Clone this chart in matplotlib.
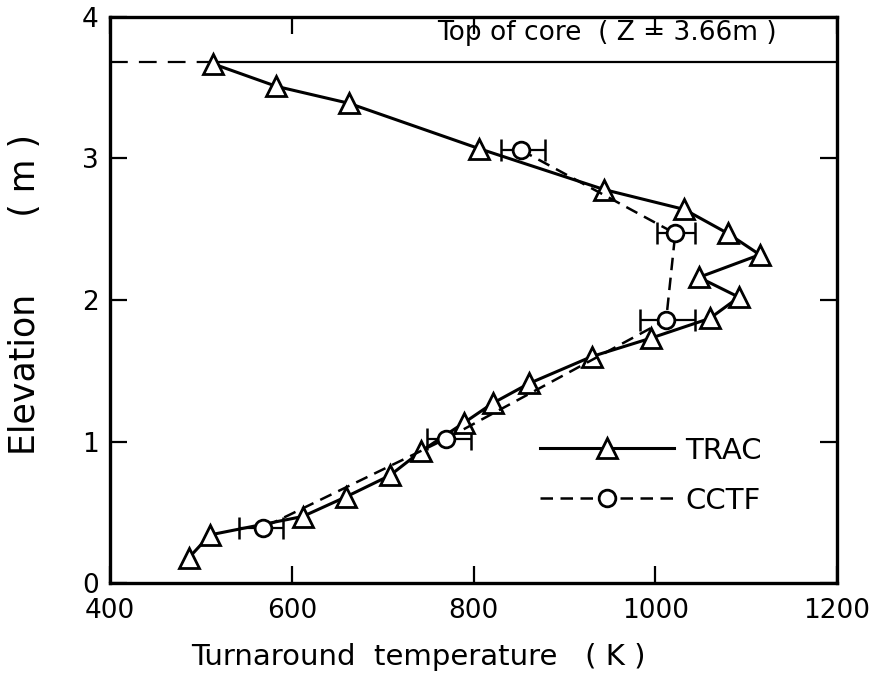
import matplotlib
matplotlib.use("Agg")
import matplotlib.pyplot as plt

# TRAC calculation, turnaround temperature (K) against elevation (m)
trac_temp = [513, 583, 663, 806, 944, 1032, 1080, 1115, 1048, 1092, 1060,
             995, 930, 861, 821, 789, 742, 708, 660, 612, 510, 487]
trac_elev = [3.67, 3.51, 3.39, 3.07, 2.78, 2.64, 2.47, 2.32, 2.16, 2.02, 1.87,
             1.73, 1.60, 1.41, 1.27, 1.13, 0.93, 0.76, 0.61, 0.47, 0.34, 0.18]

# CCTF measurement with its spread
cctf_temp = [852, 1022, 1012, 770, 568]
cctf_elev = [3.06, 2.47, 1.86, 1.02, 0.39]
cctf_err_lo = [22, 20, 29, 21, 26]
cctf_err_hi = [27, 22, 32, 27, 22]

core_top = 3.68
x_ticks = [400, 600, 800, 1000, 1200]
y_ticks = [0, 1, 2, 3, 4]

fig = plt.figure(figsize=(8.69, 6.88), dpi=100)
ax = fig.add_axes([0.1266, 0.1526, 0.8366, 0.8227])

# top of core line: dashed up to the first TRAC point, solid beyond
ax.plot([400, trac_temp[0]], [core_top, core_top], color='black', lw=1.6,
        ls=(0, (8, 5)))
ax.plot([trac_temp[0], 1200], [core_top, core_top], color='black', lw=1.6)
ax.text(0.45, 0.972, "Top of core  ( Z = 3.66m )", transform=ax.transAxes,
        fontsize=19, va='center', ha='left')

trac, = ax.plot(trac_temp, trac_elev, color='black', lw=2.2, marker='^',
                ms=14, mfc='white', mec='black', mew=2, label='TRAC',
                zorder=3)
cctf, = ax.plot(cctf_temp, cctf_elev, color='black', lw=1.8,
                ls=(0, (5, 3)), marker='o', ms=12, mfc='white', mec='black',
                mew=2, label='CCTF', zorder=4)
ax.errorbar(cctf_temp, cctf_elev, xerr=[cctf_err_lo, cctf_err_hi], fmt='none',
            ecolor='black', elinewidth=1.6, capsize=8, capthick=1.8, zorder=2)

ax.set_xlim(400, 1200)
ax.set_ylim(0, 4)
ax.set_xticks(x_ticks)
ax.set_yticks(y_ticks)
ax.tick_params(direction='in', length=12, width=1.6, labelsize=19,
               top=True, right=True)
ax.tick_params(axis='x', pad=11)
ax.tick_params(axis='y', pad=8)
for s in ax.spines.values():
    s.set_linewidth(2.4)

ax.text(0.424, -0.131, "Turnaround  temperature   ( K )",
        transform=ax.transAxes, fontsize=21, ha='center', va='center')
ax.text(-0.117, 0.51, "Elevation       ( m )", transform=ax.transAxes,
        fontsize=25, ha='center', va='center', rotation=90)

ax.legend(handles=[trac, cctf], loc='upper left',
          bbox_to_anchor=(0.555, 0.305), frameon=False, fontsize=21,
          handlelength=4.6, handletextpad=0.4, labelspacing=0.75,
          numpoints=1)

fig.savefig("out.png", dpi=100)
